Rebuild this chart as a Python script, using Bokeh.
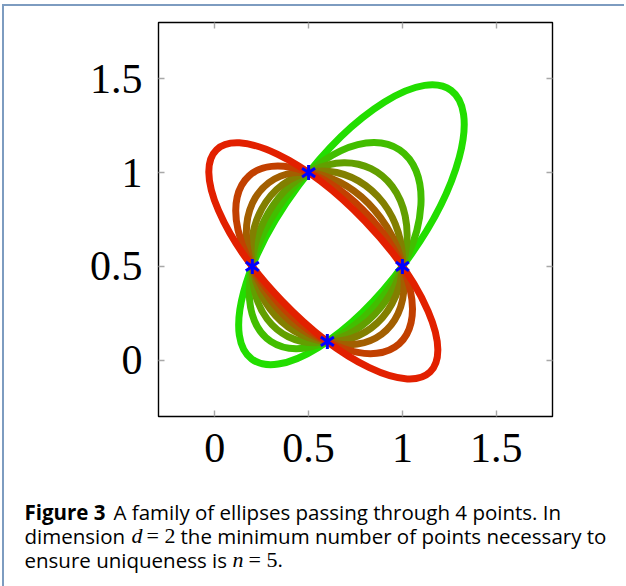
import numpy as np
from bokeh.plotting import figure
from bokeh.layouts import column
from bokeh.models import LinearAxis, FixedTicker, Range1d, ColumnDataSource
from bokeh.core.properties import value
from bokeh.embed import file_html
from bokeh.resources import INLINE

# ---- data ----
point_x = [0.2, 0.5, 1.0, 0.6]
point_y = [0.5, 1.0, 0.5, 0.1]
# weights of the conic pencil  w * (AB.CD) + (BC.DA), from the red ellipse to the green one
pencil_weights = [0.175, 0.39, 0.68, 1.12, 1.85, 3.25, 7.1]
tick_values = [0, 0.5, 1, 1.5]
tick_labels = ["0", "0.5", "1", "1.5"]
color_start = (226, 32, 0)
color_end = (34, 222, 0)

# ---- conic pencil through the four points ----
def hom(i):
    return np.array([point_x[i], point_y[i], 1.0])

def line(i, j):
    return np.cross(hom(i), hom(j))

def sym(l, m):
    return 0.5 * (np.outer(l, m) + np.outer(m, l))

S1 = sym(line(0, 1), line(2, 3))
S2 = sym(line(1, 2), line(3, 0))

n = len(pencil_weights)
cx, cy, ww, hh, ang, cols = [], [], [], [], [], []
for k, w in enumerate(pencil_weights):
    Q = w * S1 + S2
    M = Q[:2, :2]
    g = Q[:2, 2]
    c = -np.linalg.solve(M, g)
    Fc = Q[2, 2] + g @ c
    lam, vec = np.linalg.eigh(M)
    s = np.sqrt(-Fc / lam)
    t = k / (n - 1)
    r, gg, b = [int(round(color_start[i] * (1 - t) + color_end[i] * t)) for i in range(3)]
    cx.append(c[0]); cy.append(c[1])
    ww.append(2 * s[0]); hh.append(2 * s[1])
    ang.append(float(np.arctan2(vec[1, 0], vec[0, 0])))
    cols.append("#%02x%02x%02x" % (r, gg, b))

# draw green first so that red ends up on top
order = list(range(n))[::-1]
src = ColumnDataSource(dict(
    x=[cx[i] for i in order], y=[cy[i] for i in order],
    w=[ww[i] for i in order], h=[hh[i] for i in order],
    a=[ang[i] for i in order], c=[cols[i] for i in order]))

BORDER = "#7d9cc0"
p = figure(frame_width=394, frame_height=394,
           x_range=Range1d(-0.3, 1.8), y_range=Range1d(-0.3, 1.8),
           min_border_left=154, min_border_right=72,
           min_border_top=16, min_border_bottom=80,
           output_backend="svg", toolbar_location=None)
p.frame_align = False
p.grid.visible = False
p.outline_line_color = "black"
p.outline_line_width = 1.4
p.background_fill_color = "white"
p.border_fill_color = "white"

p.ellipse(x="x", y="y", width="w", height="h", angle="a", source=src,
          fill_color=None, line_color="c", line_width=7)

p.scatter(point_x, point_y, marker="y", size=15, line_color="#0000ff",
          line_width=3, fill_color=None)
p.scatter(point_x, point_y, marker="y", size=15, angle=np.pi, line_color="#0000ff",
          line_width=3, fill_color=None)

overrides = {v: l for v, l in zip(tick_values, tick_labels)}
for ax in (p.xaxis[0], p.yaxis[0]):
    ax.ticker = FixedTicker(ticks=tick_values)
    ax.major_label_overrides = overrides
    ax.major_label_text_font = "Liberation Serif"
    ax.major_label_text_font_size = "42px"
    ax.major_label_text_color = "black"
    ax.axis_line_color = None
    ax.major_tick_in = 6
    ax.major_tick_out = 0
    ax.major_tick_line_color = "#a8a8a8"
    ax.major_tick_line_width = 1.4
    ax.minor_tick_line_color = None
p.xaxis[0].major_label_standoff = 17
p.yaxis[0].major_label_standoff = 16

for loc in ("above", "right"):
    ax = LinearAxis(ticker=FixedTicker(ticks=tick_values))
    ax.major_label_text_font_size = "1px"
    ax.major_label_text_alpha = 0
    ax.major_label_standoff = 0
    ax.axis_line_color = None
    ax.major_tick_in = 6
    ax.major_tick_out = 0
    ax.major_tick_line_color = "#a8a8a8"
    ax.major_tick_line_width = 1.4
    ax.minor_tick_line_color = None
    p.add_layout(ax, loc)

# ---- caption (own figure under the plot) ----
CAP_H = 90
cap = figure(frame_width=620, frame_height=CAP_H, x_range=Range1d(0, 620),
             y_range=Range1d(CAP_H, 0), min_border=0, x_axis_type=None,
             y_axis_type=None, output_backend="svg", toolbar_location=None)
cap.frame_align = False
cap.grid.visible = False
cap.outline_line_color = None
cap.background_fill_color = "white"
cap.border_fill_color = "white"

SANS = "Open Sans"
SERIF = "Liberation Serif"
OX = 4     # window x of caption figure's left edge
OY = 496   # window y of caption figure's top edge
caption_pieces = [
    ("Figure 3", 24, 511, SANS, "bold", "20.5px"),
    ("A family of ellipses passing through 4 points. In", 113, 511, SANS, "normal", "20.5px"),
    ("dimension", 24, 535, SANS, "normal", "20.5px"),
    ("d", 131, 535, SERIF, "italic", "22px"),
    ("=", 146, 535, SERIF, "normal", "22px"),
    ("2", 164, 535, SERIF, "normal", "22px"),
    ("the minimum number of points necessary to", 180, 535, SANS, "normal", "20.5px"),
    ("ensure uniqueness is", 24, 559, SANS, "normal", "20.5px"),
    ("n", 232, 559, SERIF, "italic", "22px"),
    ("=", 248, 559, SERIF, "normal", "22px"),
    ("5", 266, 559, SERIF, "normal", "22px"),
    (".", 277, 559, SANS, "normal", "20.5px"),
]
for txt, xw, yw, font, style, fs in caption_pieces:
    cap.text(x=[xw - OX], y=[yw - OY], text=[txt], text_font=value(font),
             text_font_style=style, text_font_size=fs, text_color="black",
             text_baseline="alphabetic", text_align="left")

layout = column(p, cap, spacing=0)
layout.styles = {"margin-left": "2px", "margin-top": "4px",
                 "border-top": "2px solid " + BORDER,
                 "border-left": "2px solid " + BORDER}

open("out.html", "w").write(file_html(layout, INLINE))
